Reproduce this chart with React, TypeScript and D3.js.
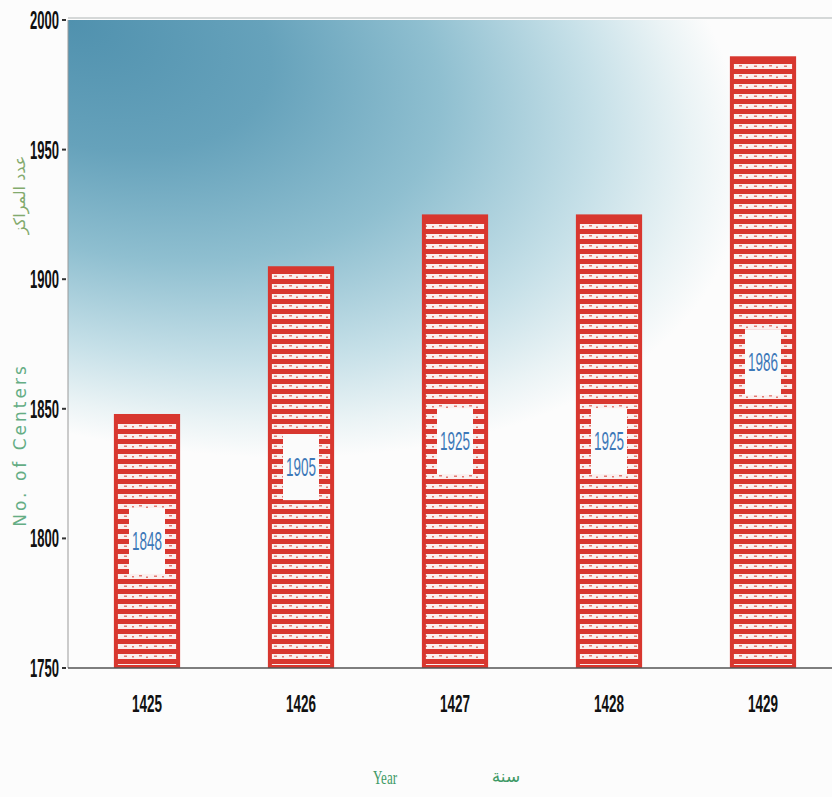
import React from "react";
import * as d3 from "d3";

const years = ["1425", "1426", "1427", "1428", "1429"];
const centers = [1848, 1905, 1925, 1925, 1986];
const yTicks = [1750, 1800, 1850, 1900, 1950, 2000];

const W = 832;
const H = 797;
const left = 68;
const top = 20;
const bottom = 668;

export default function App() {
  const x = d3.scaleBand<string>().domain(years).range([70, 840]).paddingInner(0.57).paddingOuter(0.285);
  const y = d3.scaleLinear().domain([1750, 2000]).range([bottom, top]);
  const bw = x.bandwidth();
  const numFont = "'Liberation Sans Narrow', 'Arial Narrow', sans-serif";

  return (
    <svg width={W} height={H} style={{ position: "absolute", left: 0, top: 0, background: "#fcfcfc" }}>
      <defs>
        <radialGradient
          id="bg"
          gradientUnits="userSpaceOnUse"
          cx={0}
          cy={0}
          r={1}
          fx={0}
          fy={0}
          gradientTransform={`translate(${left},${top}) rotate(18) scale(700,400)`}
        >
          <stop offset="0" stopColor="#5091ae" />
          <stop offset="0.3" stopColor="#66a2bb" />
          <stop offset="0.55" stopColor="#8fbfd0" />
          <stop offset="0.78" stopColor="#c6e0e8" />
          <stop offset="0.92" stopColor="#eaf3f5" />
          <stop offset="1" stopColor="#fcfcfc" />
        </radialGradient>
        <pattern id="brick" patternUnits="userSpaceOnUse" width="30" height="10" y="1">
          <rect x="0" y="0" width="30" height="10" fill="#d8372f" />
          <rect x="0" y="3" width="30" height="5" fill="#fbf0ef" />
          <rect x="4" y="4.5" width="3" height="1.5" fill="#e47a72" />
          <rect x="12" y="5" width="2" height="1.5" fill="#e47a72" />
          <rect x="19" y="4" width="3" height="1.5" fill="#e47a72" />
          <rect x="26" y="5.5" width="2" height="1.5" fill="#e47a72" />
        </pattern>
      </defs>

      {/* background gradient */}
      <rect x={left} y={top} width={W - left} height={bottom - top} fill="url(#bg)" />
      <line x1={left} x2={W} y1={top - 2} y2={top - 2} stroke="#c8cccc" strokeWidth={1.5} />

      {/* y axis */}
      <line x1={left} x2={left} y1={top} y2={bottom} stroke="#9a9a9a" strokeWidth={1} />
      {yTicks.map((t) => (
        <g key={t}>
          <line x1={left - 6} x2={left - 2} y1={y(t)} y2={y(t)} stroke="#333" strokeWidth={2} />
          <text
            x={left - 9}
            y={y(t)}
            dy="0.36em"
            textAnchor="end"
            fontFamily={numFont}
            fontWeight="bold"
            fontSize={25}
            textLength={29}
            lengthAdjust="spacingAndGlyphs"
            fill="#111"
          >
            {t}
          </text>
        </g>
      ))}

      {/* bars */}
      {years.map((yr, i) => {
        const x0 = x(yr)!;
        const y0 = y(centers[i]);
        const h = bottom - y0;
        const cx = x0 + bw / 2;
        const cy = y0 + h / 2;
        return (
          <g key={yr}>
            <rect x={x0} y={y0} width={bw} height={h} fill="#d8372f" />
            <rect x={x0 + 4} y={y0 + 7} width={bw - 8} height={h - 10} fill="url(#brick)" />
            <rect x={cx - 18} y={cy - 33} width={36} height={66} fill="#fbfbfb" />
            <text
              x={cx}
              y={cy}
              dy="0.36em"
              textAnchor="middle"
              fontFamily={numFont}
              fontSize={25}
              textLength={30}
              lengthAdjust="spacingAndGlyphs"
              fill="#3d78b8"
            >
              {centers[i]}
            </text>
          </g>
        );
      })}

      {/* x axis */}
      <line x1={left} x2={W} y1={bottom} y2={bottom} stroke="#555" strokeWidth={1.5} />
      {years.map((yr) => (
        <text
          key={yr}
          x={x(yr)! + bw / 2}
          y={703}
          dy="0.36em"
          textAnchor="middle"
          fontFamily={numFont}
          fontWeight="bold"
          fontSize={24}
          textLength={30}
          lengthAdjust="spacingAndGlyphs"
          fill="#111"
        >
          {yr}
        </text>
      ))}

      {/* axis titles */}
      <text x={385} y={784} textAnchor="middle" fontFamily="'Liberation Serif', serif" fontSize={18} fill="#3f9a66" textLength={24} lengthAdjust="spacingAndGlyphs">
        Year
      </text>
      <text x={506} y={782} textAnchor="middle" fontFamily="'DejaVu Sans', sans-serif" fontSize={17} fill="#3f9a66">
        سنة
      </text>
      <text
        transform="translate(26,445) rotate(-90)"
        textAnchor="middle"
        fontFamily="'DejaVu Sans', sans-serif"
        fontSize={17}
        letterSpacing={3}
        fill="#4aa070"
        opacity={0.85}
      >
        No. of Centers
      </text>
      <text
        transform="translate(25,195) rotate(-90)"
        textAnchor="middle"
        fontFamily="'DejaVu Sans', sans-serif"
        fontSize={16}
        fill="#6f9c55"
        opacity={0.85}
      >
        عدد المراكز
      </text>
    </svg>
  );
}
